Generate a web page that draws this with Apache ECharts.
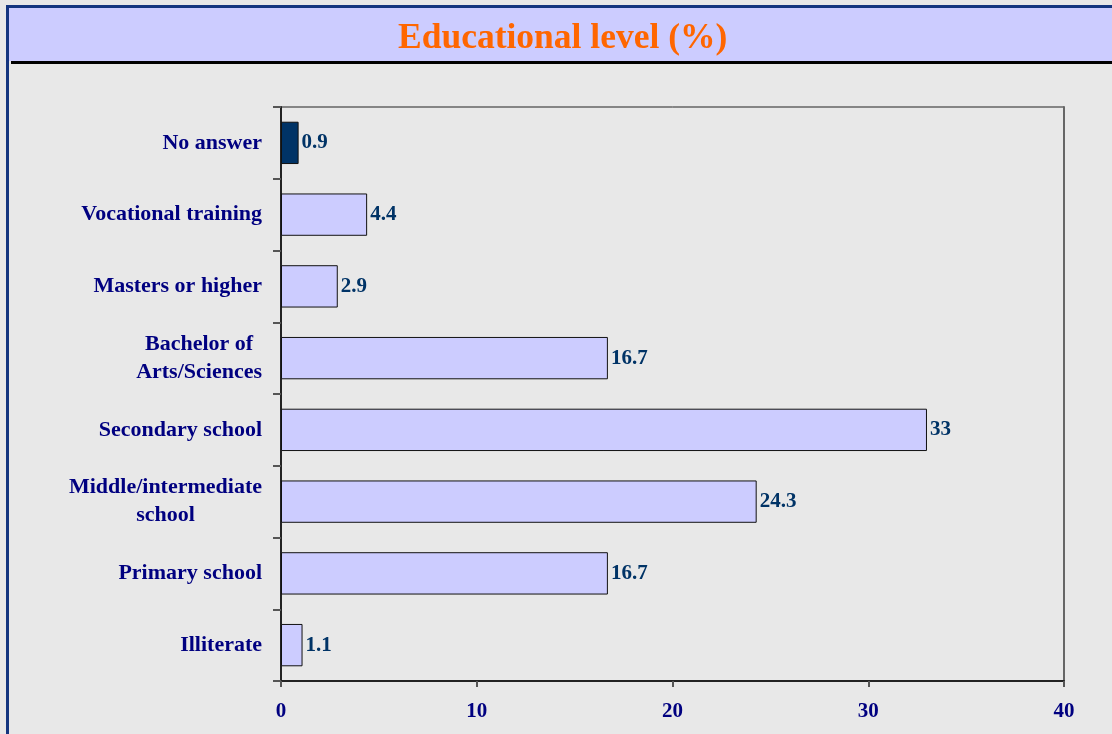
<!DOCTYPE html>
<html lang="en">

<head>
    <meta charset="UTF-8">
    <title>Educational level (%)</title>
    <style>
        body {
            margin: 0px;
            padding: 0px;
            background: #e8e8e8;
        }

        #eduChart {
            width: 1112px;
            height: 734px;
        }
    </style>
</head>

<body>
    <div id="eduChart"></div>
    <script src="https://cdn.jsdelivr.net/npm/echarts@6/dist/echarts.min.js"></script>
    <script>
        // bottom to top, same order as the picture read upward
        var categories = ['Illiterate', 'Primary school', 'Middle/intermediate\nschool', 'Secondary school',
            'Bachelor of\nArts/Sciences', 'Masters or higher', 'Vocational training', 'No answer'];
        var values = [1.1, 16.7, 24.3, 33, 16.7, 2.9, 4.4, 0.9];
        var highlighted = 'No answer';
        var xTicks = [0, 10, 20, 30, 40];

        var serif = 'Liberation Serif';

        barChart()

        function barChart() {
            var myChart = echarts.init(document.getElementById('eduChart'));

            var barData = values.map(function (v, i) {
                var item = { value: v };
                if (categories[i] === highlighted) {
                    item.itemStyle = { color: '#003366' };
                }
                return item;
            });

            var option = {
                backgroundColor: '#e8e8e8',
                animation: false,
                title: {
                    text: 'Educational level (%)',
                    left: 393,
                    top: 16,
                    textStyle: {
                        fontFamily: serif,
                        fontWeight: 700,
                        fontSize: 35.5,
                        color: '#ff6600'
                    }
                },
                graphic: [
                    // page frame on the left
                    { type: 'rect', shape: { x: 6, y: 5, width: 3, height: 729 }, style: { fill: '#14357f' }, z: 1 },
                    // banner behind the title
                    { type: 'rect', shape: { x: 11, y: 61, width: 1101, height: 3 }, style: { fill: '#000000' }, z: 1 },
                    { type: 'rect', shape: { x: 6, y: 5, width: 1106, height: 3 }, style: { fill: '#14357f' }, z: 1 },
                    { type: 'rect', shape: { x: 9, y: 8, width: 1103, height: 53 }, style: { fill: '#ccccff' }, z: 0 }
                ],
                grid: {
                    left: 281,
                    top: 107,
                    right: 48,
                    bottom: 53,
                    show: true,
                    backgroundColor: 'transparent',
                    borderColor: '#222',
                    borderWidth: 1
                },
                xAxis: {
                    type: 'value',
                    min: xTicks[0],
                    max: xTicks[xTicks.length - 1],
                    interval: 10,
                    axisLine: { show: true, lineStyle: { color: '#222', width: 2 } },
                    axisTick: { show: true, length: 6, lineStyle: { color: '#555', width: 2 } },
                    splitLine: { show: false },
                    axisLabel: {
                        margin: 20,
                        fontFamily: serif,
                        fontWeight: 700,
                        fontSize: 21,
                        color: '#000080'
                    }
                },
                yAxis: [{
                    type: 'category',
                    data: categories,
                    axisLine: { show: true, lineStyle: { color: '#222', width: 2 } },
                    axisTick: { show: true, length: 8, lineStyle: { color: '#555', width: 2 } },
                    axisLabel: {
                        margin: 19,
                        fontFamily: serif,
                        fontWeight: 700,
                        fontSize: 22,
                        lineHeight: 28,
                        color: '#000080',
                        formatter: function (value) {
                            return value.split('\n').map(function (s) {
                                return '{c|' + s + '}';
                            }).join('\n');
                        },
                        rich: {
                            c: {
                                fontFamily: serif,
                                fontWeight: 700,
                                fontSize: 22,
                                lineHeight: 28,
                                color: '#000080',
                                align: 'center'
                            }
                        }
                    }
                }, {
                    type: 'category',
                    position: 'right',
                    data: categories,
                    axisLine: { show: true, lineStyle: { color: '#666', width: 2 } },
                    axisTick: { show: false },
                    axisLabel: { show: false }
                }],
                series: [{
                    type: 'bar',
                    data: barData,
                    barCategoryGap: '41%',
                    itemStyle: {
                        color: '#ccccff',
                        borderColor: '#111',
                        borderWidth: 1
                    },
                    label: {
                        show: true,
                        position: 'right',
                        distance: 3,
                        fontFamily: serif,
                        fontWeight: 700,
                        fontSize: 21,
                        color: '#003366'
                    }
                }]
            };

            myChart.setOption(option);
        }
    </script>
</body>

</html>
